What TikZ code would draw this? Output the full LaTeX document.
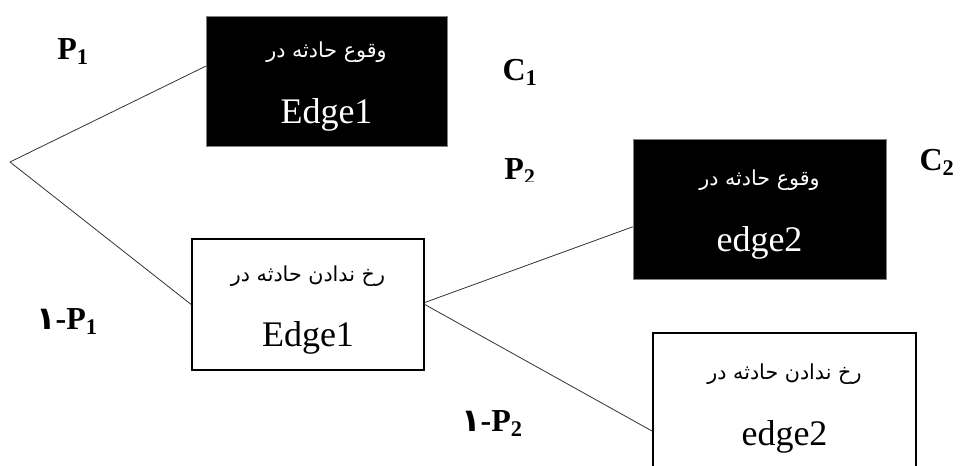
\documentclass[tikz,border=0pt]{standalone}
\usepackage{fontspec}
\setmainfont{Liberation Serif}
\newfontfamily\arabicfont[Script=Arabic]{DejaVu Sans}
\TeXXeTstate=1

\begin{document}
\begin{tikzpicture}
        [x=0.75pt, y=-0.75pt,
        event/.style={rectangle, fill=black, draw=gray, text=white, inner sep=0pt, align=center, font=\fontsize{27}{30}\selectfont},
        noevent/.style={rectangle, draw=black, line width=1.2pt, inner sep=0pt, align=center, font=\fontsize{27}{30}\selectfont},
        branch/.style={black!80, line width=0.6pt},
        prob/.style={font=\bfseries\fontsize{24}{28}\selectfont}]

        \useasboundingbox (0,0) rectangle (964,465);

        % start of the tree
        \coordinate (root) at (10,162);

        % boxes for the two edges
        \node[event, minimum width=180.75pt, minimum height=97.5pt] (e1) at (326.5,81)
            {{\arabicfont\fontsize{15.5}{18}\selectfont\rule{0pt}{20pt}\beginR وقوع حادثه در\endR}\\[19pt]Edge1};
        \node[noevent, minimum width=174pt, minimum height=98.25pt] (n1) at (308,304.5)
            {{\arabicfont\fontsize{15.5}{18}\selectfont\rule{0pt}{20pt}\beginR رخ ندادن حادثه در\endR}\\[19pt]Edge1};
        \node[event, minimum width=189.75pt, minimum height=105pt] (e2) at (759.5,209)
            {{\arabicfont\fontsize{15.5}{18}\selectfont\rule{0pt}{20pt}\beginR وقوع حادثه در\endR}\\[19pt]edge2};
        \node[noevent, minimum width=197.25pt, minimum height=105pt] (n2) at (784.5,403)
            {{\arabicfont\fontsize{15.5}{18}\selectfont\rule{0pt}{20pt}\beginR رخ ندادن حادثه در\endR}\\[19pt]edge2};

        % branches
        \draw[branch] (root) -- (e1.173);
        \draw[branch] (root) -- (n1.180);
        \draw[branch] (n1.1.7) -- (e2.188.5);
        \draw[branch] (n1.-0.7) -- (n2.192.4);

        % probabilities and costs
        \node[prob] (p1) at (73,52) {P\textsubscript{1}};
        \node[prob] (c1) at (520,72) {C\textsubscript{1}};
        \node[prob] (c2) at (937,162) {C\textsubscript{2}};
        \node[prob] (q1) at (67,322) {{\arabicfont ۱}-P\textsubscript{1}};
        \node[prob] (q2) at (492,424) {{\arabicfont ۱}-P\textsubscript{2}};
        \begin{scope}
            \clip (480,140) rectangle (600,181);
            \node[prob] (p2) at (520,172) {P\textsubscript{2}};
        \end{scope}

        \end{tikzpicture}
\end{document}
